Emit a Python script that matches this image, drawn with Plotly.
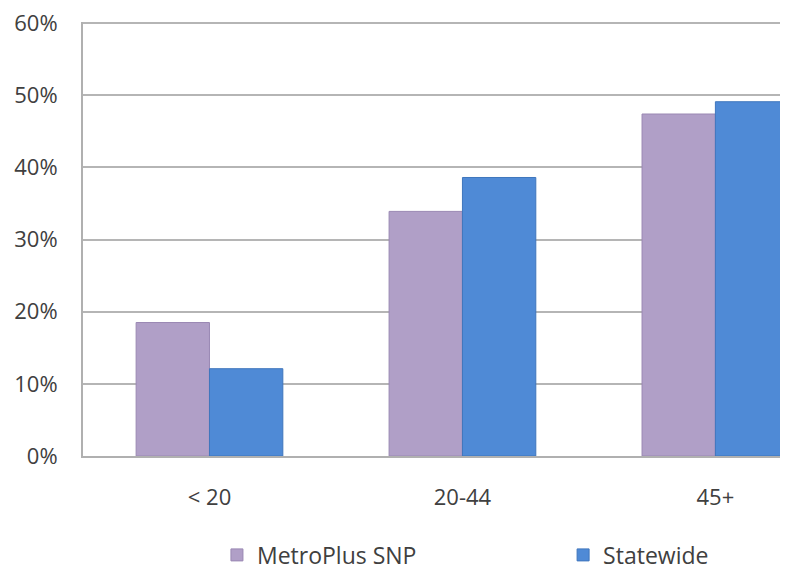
import plotly.graph_objects as go

categories = ["< 20", "20-44", "45+"]
metroplus = [0.185, 0.339, 0.474]
statewide = [0.121, 0.386, 0.491]
y_ticks = [0, 0.1, 0.2, 0.3, 0.4, 0.5, 0.6]
y_tick_labels = ["0%", "10%", "20%", "30%", "40%", "50%", "60%"]

fig = go.Figure()
fig.add_trace(go.Bar(
    x=categories, y=metroplus, name="MetroPlus SNP", legend="legend",
    marker=dict(color="#b09fc7", line=dict(color="#9a88b3", width=1)),
))
fig.add_trace(go.Bar(
    x=categories, y=statewide, name="Statewide", legend="legend2",
    marker=dict(color="#4f8ad6", line=dict(color="#3f76bd", width=1)),
))

legend_style = dict(
    orientation="h", xanchor="left", y=-0.228, yanchor="middle",
    font=dict(size=23, color="#404040"), itemwidth=30, bgcolor="rgba(0,0,0,0)",
)

# page body has an 8px default margin; figure sized so it ends at the window edge
fig.update_layout(
    width=780, height=569,
    margin=dict(l=75, r=0, t=14, b=121),
    paper_bgcolor="white", plot_bgcolor="white",
    barmode="group", bargap=0.42, bargroupgap=0,
    font=dict(family="Open Sans, Liberation Sans, sans-serif", color="#404040"),
    showlegend=True,
    legend=dict(x=0.19, **legend_style),
    legend2=dict(x=0.681, **legend_style),
)
fig.update_xaxes(
    range=[-0.5, 2.287], showgrid=False, showline=True, linecolor="#b0b0b0", linewidth=2,
    ticks="", tickfont=dict(size=22, color="#404040"), ticklabelstandoff=21,
    automargin=False,
)
fig.update_yaxes(
    range=[0, 0.6015], tickvals=y_ticks, ticktext=y_tick_labels,
    showgrid=True, gridcolor="#b5b5b5", gridwidth=2,
    showline=True, linecolor="#b0b0b0", linewidth=2, zeroline=False,
    tickfont=dict(size=22, color="#404040"), ticklabelstandoff=19,
    ticklabeloverflow="allow", automargin=False,
)

fig.write_html("out.html")
